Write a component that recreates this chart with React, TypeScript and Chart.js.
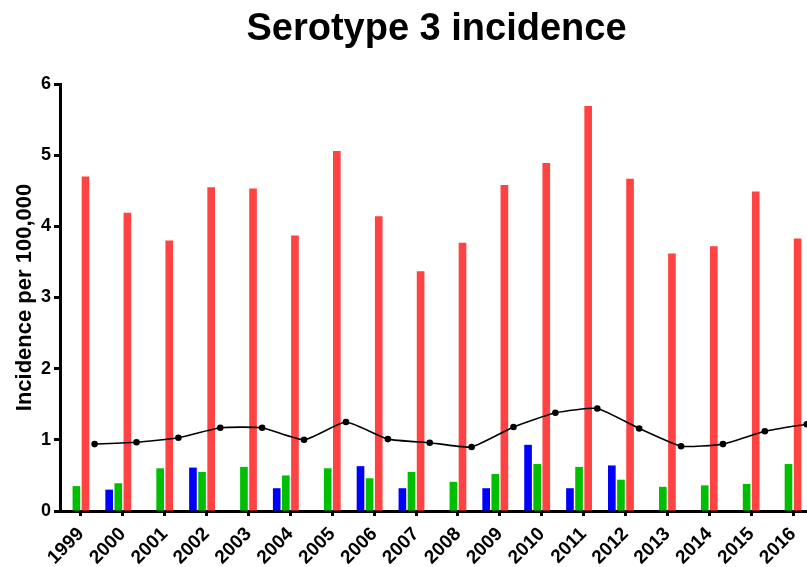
import React, { useEffect, useRef } from "react";
import { Chart, registerables } from "chart.js";

Chart.register(...registerables);

const years = ["1999", "2000", "2001", "2002", "2003", "2004", "2005", "2006", "2007", "2008", "2009", "2010", "2011", "2012", "2013", "2014", "2015", "2016"];
const blueValues = [null, 0.30, null, 0.61, null, 0.32, null, 0.63, 0.32, null, 0.32, 0.93, 0.32, 0.64, null, null, null, null];
const greenValues = [0.35, 0.39, 0.60, 0.55, 0.62, 0.50, 0.60, 0.46, 0.55, 0.41, 0.52, 0.66, 0.62, 0.44, 0.34, 0.36, 0.38, 0.66];
const redValues = [4.70, 4.19, 3.80, 4.55, 4.53, 3.87, 5.06, 4.14, 3.37, 3.77, 4.58, 4.89, 5.69, 4.67, 3.62, 3.72, 4.49, 3.83];
const lineValues = [0.94, 0.965, 1.03, 1.17, 1.17, 1.00, 1.25, 1.01, 0.96, 0.90, 1.18, 1.38, 1.44, 1.16, 0.91, 0.94, 1.12, 1.22];
const yTicks = [0, 1, 2, 3, 4, 5, 6];

const CAT_PCT = 0.87;
const BAR_PCT = 0.84;
const SLOTS = 4;
const FONT = "'Liberation Sans', Arial, Helvetica, sans-serif";

export default function App() {
  const ref = useRef<HTMLCanvasElement | null>(null);

  useEffect(() => {
    if (!ref.current) return;
    // the line sits in the 4th (empty) bar slot of each category group
    const slotOffset = 1.5 * CAT_PCT / SLOTS;
    const chart = new Chart(ref.current, {
      type: "bar",
      data: {
        labels: years,
        datasets: [
          {
            type: "line",
            label: "Total",
            parsing: false,
            data: lineValues.map((v, i) => ({ x: i + slotOffset, y: v })),
            borderColor: "#000000",
            backgroundColor: "#000000",
            borderWidth: 1.6,
            pointRadius: 3.3,
            pointBackgroundColor: "#000000",
            pointBorderWidth: 0,
            tension: 0.15,
            order: 0,
            clip: false,
          } as any,
          {
            label: "Blue",
            data: blueValues,
            backgroundColor: "#0000FF",
            categoryPercentage: CAT_PCT,
            barPercentage: BAR_PCT,
            order: 1,
          },
          {
            label: "Green",
            data: greenValues,
            backgroundColor: "#00BF00",
            categoryPercentage: CAT_PCT,
            barPercentage: BAR_PCT,
            order: 1,
          },
          {
            label: "Red",
            data: redValues,
            backgroundColor: "#FF4242",
            categoryPercentage: CAT_PCT,
            barPercentage: BAR_PCT,
            order: 1,
          },
          {
            label: "",
            data: [],
            backgroundColor: "rgba(0,0,0,0)",
            categoryPercentage: CAT_PCT,
            barPercentage: BAR_PCT,
            order: 1,
          },
        ],
      },
      options: {
        responsive: false,
        animation: false,
        layout: { padding: 0 },
        plugins: {
          legend: { display: false },
          tooltip: { enabled: false },
          title: {
            display: true,
            text: "Serotype 3 incidence",
            color: "#000000",
            font: { family: FONT, size: 38, weight: "bold", lineHeight: 1.2 },
            padding: { top: 7, bottom: 31.4 },
          },
        },
        scales: {
          x: {
            type: "category",
            offset: true,
            grid: {
              offset: false,
              drawOnChartArea: false,
              drawTicks: true,
              tickLength: 5,
              tickWidth: 3,
              tickColor: "#000000",
              color: "#000000",
            },
            border: { display: true, color: "#000000", width: 3 },
            ticks: {
              autoSkip: false,
              minRotation: 45,
              maxRotation: 45,
              color: "#000000",
              padding: 7,
              font: { family: FONT, size: 19, weight: "bold" },
            },
            afterFit: (scale: any) => {
              scale.height = 56;
            },
          },
          y: {
            type: "linear",
            min: yTicks[0],
            max: yTicks[yTicks.length - 1],
            afterBuildTicks: (scale: any) => {
              scale.ticks = yTicks.map((v) => ({ value: v }));
            },
            grid: {
              drawOnChartArea: false,
              drawTicks: true,
              tickLength: 6,
              tickWidth: 3,
              tickColor: "#000000",
              color: "#000000",
            },
            border: { display: true, color: "#000000", width: 3 },
            ticks: {
              color: "#000000",
              padding: 3,
              font: { family: FONT, size: 18, weight: "bold" },
            },
            title: {
              display: true,
              text: "Incidence per 100,000",
              color: "#000000",
              font: { family: FONT, size: 22, weight: "bold", lineHeight: 1.2 },
              padding: { top: 12, bottom: 0 },
            },
            afterFit: (scale: any) => {
              scale.width = 60;
            },
          },
          ySpace: {
            type: "linear",
            position: "right",
            display: true,
            grid: { display: false, drawTicks: false },
            border: { display: false },
            ticks: { display: false },
            afterFit: (scale: any) => {
              scale.width = 59;
            },
          },
        },
      } as any,
    });
    return () => chart.destroy();
  }, []);

  return (
    <div style={{ position: "absolute", left: 0, top: 0, width: 807, height: 567, overflow: "hidden", background: "#ffffff" }}>
      <canvas ref={ref} width={873} height={567} style={{ display: "block", width: 873, height: 567 }} />
    </div>
  );
}
